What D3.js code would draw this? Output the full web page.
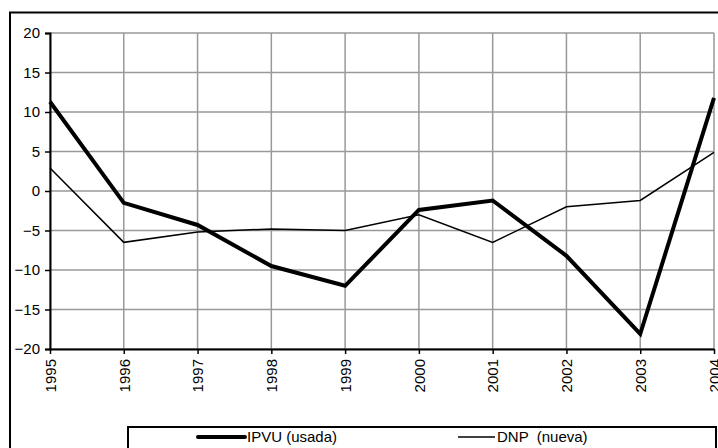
<!DOCTYPE html>
<html><head><meta charset="utf-8">
<script src="https://cdn.jsdelivr.net/npm/d3@7"></script>
<style>body{margin:0;background:#fff}svg{display:block}</style>
</head><body>
<svg id="c" width="718" height="448"></svg>
<script>
const years = [1995,1996,1997,1998,1999,2000,2001,2002,2003,2004];
const ipvu = [11.3,-1.5,-4.3,-9.5,-12.0,-2.4,-1.2,-8.2,-18.1,11.8];
const dnp = [2.9,-6.5,-5.2,-4.8,-5.0,-3.0,-6.5,-2.0,-1.2,4.9];
const yTicks = [-20,-15,-10,-5,0,5,10,15,20];
const seriesNames = ["IPVU (usada)","DNP  (nueva)"];

const svg = d3.select("#c");
const font = "Liberation Sans, Arial, sans-serif";
const L=50,R=714,T=33,B=349;
const x = d3.scalePoint().domain(years).range([L,R]);
const y = d3.scaleLinear().domain([-20,20]).range([B,T]);

// outer border
svg.append("rect").attr("x",10).attr("y",12.5).attr("width",720).attr("height",450)
  .attr("fill","none").attr("stroke","#000").attr("stroke-width",2);

// gridlines
svg.append("g").selectAll("line").data(yTicks).join("line")
  .attr("x1",L).attr("x2",R).attr("y1",d=>y(d)).attr("y2",d=>y(d))
  .attr("stroke","#999").attr("stroke-width",1.5);
svg.append("g").selectAll("line").data(years).join("line")
  .attr("x1",d=>x(d)).attr("x2",d=>x(d)).attr("y1",T).attr("y2",B)
  .attr("stroke","#999").attr("stroke-width",1.5);

// axes
const ya = svg.append("g").attr("transform",`translate(${L},0)`)
  .call(d3.axisLeft(y).tickValues(yTicks).tickSize(5).tickPadding(5));
ya.select(".domain").attr("stroke","#000").attr("stroke-width",2);
ya.selectAll(".tick line").attr("stroke","#000").attr("stroke-width",1.5);
ya.selectAll("text").attr("font-family",font).attr("font-size",15).attr("fill","#000");

const xa = svg.append("g").attr("transform",`translate(0,${B})`)
  .call(d3.axisBottom(x).tickSize(5).tickSizeOuter(0).tickFormat(d3.format("d")));
xa.select(".domain").attr("stroke","#000").attr("stroke-width",2);
xa.selectAll(".tick line").attr("stroke","#000").attr("stroke-width",1.5);
xa.selectAll("text").attr("font-family",font).attr("font-size",15).attr("fill","#000")
  .attr("transform","rotate(-90)").attr("text-anchor","end")
  .attr("x",-10).attr("y",0).attr("dy","0.35em");

// lines
const line = d3.line().x((d,i)=>x(years[i])).y(d=>y(d));
svg.append("path").datum(dnp).attr("d",line).attr("fill","none")
  .attr("stroke","#000").attr("stroke-width",1.5).attr("stroke-linejoin","miter");
svg.append("path").datum(ipvu).attr("d",line).attr("fill","none")
  .attr("stroke","#000").attr("stroke-width",4).attr("stroke-linejoin","miter");

// legend
svg.append("rect").attr("x",128).attr("y",427).attr("width",588).attr("height",40)
  .attr("fill","#fff").attr("stroke","#000").attr("stroke-width",2);
const leg = [{x1:198,x2:245,tx:247,w:4},{x1:458,x2:495,tx:497,w:1.5}];
leg.forEach((l,i)=>{
  svg.append("line").attr("x1",l.x1).attr("x2",l.x2).attr("y1",437).attr("y2",437)
    .attr("stroke","#000").attr("stroke-width",l.w).attr("stroke-linecap",i==0?"round":"butt");
  svg.append("text").attr("x",l.tx).attr("y",437).attr("dy","0.35em")
    .attr("font-family",font).attr("font-size",15).style("white-space","pre").text(seriesNames[i]);
});
</script>
</body></html>
